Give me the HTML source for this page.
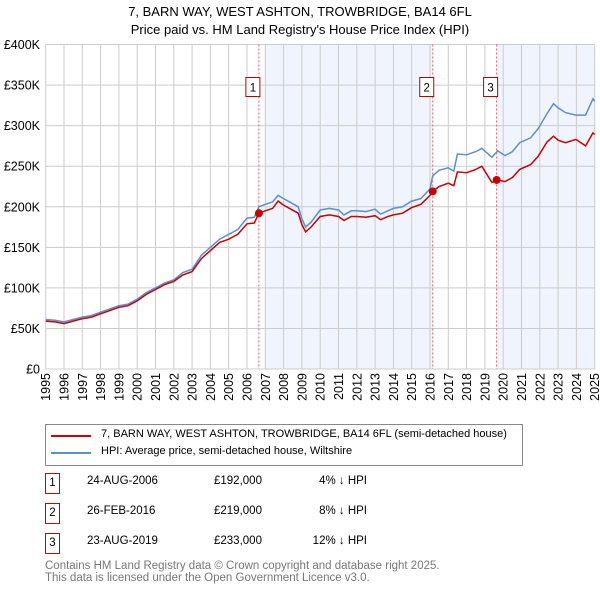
<!DOCTYPE html>
<html><head><meta charset="utf-8"><style>
body{margin:0;background:#fff;font-family:"Liberation Sans","DejaVu Sans",sans-serif;}
#root{position:relative;width:600px;height:590px;overflow:hidden;}
.t{position:absolute;white-space:nowrap;color:#000;}
</style></head><body><div id="root">
<svg id="c" width="600" height="590" style="position:absolute;left:0;top:0"></svg>
<div class="t" style="left:0;width:600px;text-align:center;top:3px;font-size:13px;line-height:18px">7, BARN WAY, WEST ASHTON, TROWBRIDGE, BA14 6FL<br>Price paid vs. HM Land Registry's House Price Index (HPI)</div>
<div style="position:absolute;left:45px;top:424px;width:476px;height:40px;border:1px solid #888;"></div>
<div style="position:absolute;left:51px;top:435px;width:40px;height:2px;background:#cc0000"></div>
<div class="t" style="left:101px;top:428px;font-size:11px">7, BARN WAY, WEST ASHTON, TROWBRIDGE, BA14 6FL (semi-detached house)</div>
<div style="position:absolute;left:51px;top:452px;width:40px;height:2px;background:#5b8fd0"></div>
<div class="t" style="left:101px;top:445px;font-size:11px">HPI: Average price, semi-detached house, Wiltshire</div>
<div id="rows"></div>
<div class="t" style="left:45px;top:560px;font-size:11.5px;line-height:12px;color:#777">Contains HM Land Registry data © Crown copyright and database right 2025.<br>This data is licensed under the Open Government Licence v3.0.</div>
</div>
<script>
const hpiYears=[1995,1995.5,1996,1996.5,1997,1997.5,1998,1998.5,1999,1999.5,2000,2000.5,2001,2001.5,2002,2002.5,2003,2003.5,2004,2004.5,2005,2005.5,2006,2006.4,2006.65,2007,2007.4,2007.7,2008,2008.4,2008.8,2009,2009.2,2009.5,2010,2010.5,2011,2011.3,2011.7,2012,2012.5,2013,2013.3,2013.7,2014,2014.5,2015,2015.5,2016,2016.15,2016.5,2017,2017.3,2017.5,2018,2018.5,2018.83,2019.38,2019.7,2020.1,2020.5,2020.9,2021.5,2021.9,2022.4,2022.75,2023,2023.4,2023.97,2024.5,2024.9,2025];
const hpiValues=[61,60,58,61,64,66,70,74,78,80,86,94,100,106,110,119,123,140,150,160,166,172,186,187,200,203,206,214,210,205,200,185,175,181,196,198,196,190,195,195,194,197,191,195,198,200,207,210,222,238,245,248,244,265,264,268,272,261,269,263,268,279,285,296,315,327,322,316,313,313,333,330];
const propValues=[59,58,56,59,62,64,68,72,76,78,84,92,98,104,108,116,120,136,146,156,160,166,179,180,192,195,198,207,202,197,192,178,169,175,188,190,188,183,188,188,187,189,184,188,190,192,199,203,214,219,225,229,226,243,242,246,250,230,233,231,236,246,252,262,280,287,282,279,283,275,291,289];
const saleYears=[2006.65,2016.15,2019.64];
const saleValues=[192,219,233];
const saleLabels=["1","2","3"];
const saleDates=["24-AUG-2006","26-FEB-2016","23-AUG-2019"];
const salePrices=["£192,000","£219,000","£233,000"];
const saleDiffs=["4% ↓ HPI","8% ↓ HPI","12% ↓ HPI"];
const yTicks=[0,50,100,150,200,250,300,350,400];
const xTicks=[1995,1996,1997,1998,1999,2000,2001,2002,2003,2004,2005,2006,2007,2008,2009,2010,2011,2012,2013,2014,2015,2016,2017,2018,2019,2020,2021,2022,2023,2024,2025];
const shadeRanges=[[2007,2016.15],[2019.64,2025]];

const X0=45.7,X1=594.7,Y0=369,Y1=44.5;
const xs=y=>X0+(y-1995)/30*(X1-X0);
const ys=v=>Y0-v/400*(Y0-Y1);
const NS="http://www.w3.org/2000/svg";
const svg=document.getElementById('c');
function mk(t,a){const e=document.createElementNS(NS,t);for(const k in a)e.setAttribute(k,a[k]);svg.appendChild(e);return e;}
for(const r of shadeRanges){
 const e=mk('rect',{x:xs(r[0]),y:Y1,width:xs(r[1])-xs(r[0]),height:Y0-Y1,fill:'#f0f4fc'});
 
 
}
for(const v of yTicks){
 const g=mk('line',{x1:X0,x2:X1,y1:ys(v),y2:ys(v),stroke:'#ccc','stroke-width':1});
 
 
 const t=mk('text',{x:40,y:ys(v)+4.5,'text-anchor':'end','font-size':12.5,'font-family':'Liberation Sans, DejaVu Sans, sans-serif'});
 t.textContent=v===0?'£0':'£'+v+'K';
 
 
}
for(const y of xTicks){
 const g=mk('line',{x1:xs(y),x2:xs(y),y1:Y1,y2:Y0,stroke:'#ccc','stroke-width':1});
 
 
 const t=mk('text',{x:0,y:0,'text-anchor':'end','font-size':12.5,'font-family':'Liberation Sans, DejaVu Sans, sans-serif',transform:`translate(${xs(y)+4.5},${Y0+4}) rotate(-90)`});
 t.textContent=y;
 
 
}
for(let i=0;i<saleYears.length;i++){
 const l=mk('line',{x1:xs(saleYears[i]),x2:xs(saleYears[i]),y1:Y1,y2:Y0,stroke:'#e06070','stroke-width':1,'stroke-dasharray':'2,2'});
 
 
}
const pts=a=>hpiYears.map((y,i)=>xs(y).toFixed(1)+','+ys(a[i]).toFixed(1)).join(' ');
const h=mk('polyline',{points:pts(hpiValues),fill:'none',stroke:'#5b8fd0','stroke-width':1.5});


const p=mk('polyline',{points:pts(propValues),fill:'none',stroke:'#cc0000','stroke-width':1.5});


for(let i=0;i<saleYears.length;i++){
 const c=mk('circle',{cx:xs(saleYears[i]),cy:ys(saleValues[i]),r:4,fill:'#cc0000'});
 
 
 const bx=xs(saleYears[i]);
 const r=mk('rect',{x:bx-13,y:77.5,width:14,height:19,fill:'#fff',stroke:'#b00','stroke-width':1});
 
 
 const t=mk('text',{x:bx-6,y:91.5,'text-anchor':'middle','font-size':11.5,'font-family':'Liberation Sans, DejaVu Sans, sans-serif'});
 t.textContent=saleLabels[i];
 
 
}
const rows=document.getElementById('rows');
const rowY=[470,500,530];
for(let i=0;i<saleLabels.length;i++){
 const y=rowY[i];
 const b=document.createElement('div');
 
 
 b.style.cssText=`position:absolute;left:45px;top:${y+3}px;width:13px;height:19px;border:1px solid #c00;font-size:11.5px;text-align:center;line-height:19px`;
 b.textContent=saleLabels[i];rows.appendChild(b);
 const cells=[[87,saleDates[i],'left'],[214,salePrices[i],'left'],[246,saleDiffs[i],'right']];
 const names=['table-date','table-price','table-hpi-diff'];
 cells.forEach((c,j)=>{
  const d=document.createElement('div');
  
  
  d.className='t';
  d.style.cssText=`top:${y+5}px;font-size:11.5px;`+(c[2]==='left'?`left:${c[0]}px`:`right:${600-367}px`);
  d.textContent=c[1];rows.appendChild(d);
 });
}
</script></body></html>
